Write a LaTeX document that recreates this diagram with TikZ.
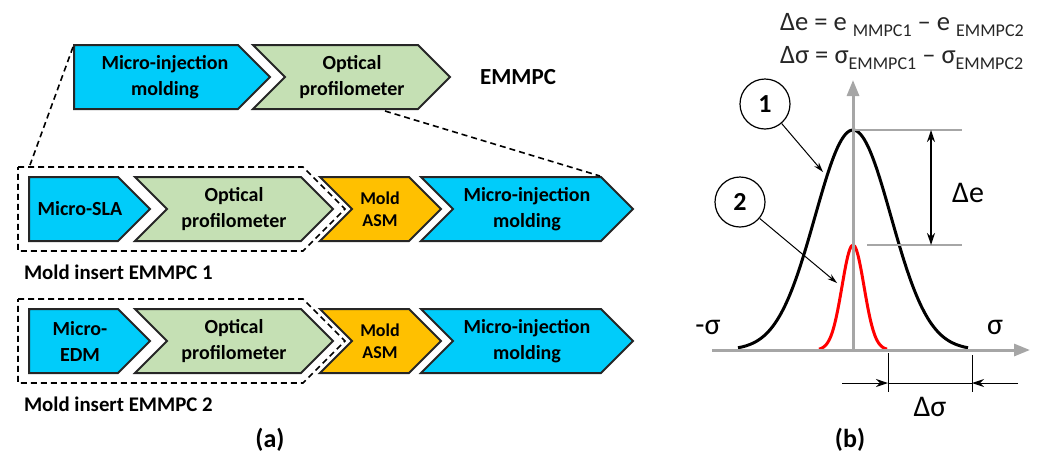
\documentclass[tikz,border=0pt]{standalone}
\usepackage{fontspec}
\setmainfont{Carlito}
\usetikzlibrary{arrows.meta}

\definecolor{chevblue}{RGB}{0,204,250}
\definecolor{chevgreen}{RGB}{197,224,180}
\definecolor{chevgold}{RGB}{255,192,0}
\definecolor{axisgray}{RGB}{166,166,166}
\newcommand{\lowsub}[1]{\raisebox{-0.45ex}{\fontsize{9}{9}\selectfont #1}}

\begin{document}
\begin{tikzpicture}[x=0.5pt,y=-0.5pt,
  chev/.style={draw=black!85,line width=1pt},
  chevtxt/.style={align=center,font=\fontsize{10}{13}\selectfont\bfseries},
  smalltxt/.style={align=center,font=\fontsize{9}{11}\selectfont\bfseries},
  dashbox/.style={draw,line width=0.8pt,dash pattern=on 3pt off 2pt},
  axis/.style={draw=axisgray,line width=1.5pt,-{Triangle[length=8pt,width=6pt]}},
  guide/.style={draw=axisgray,line width=0.6pt},
  ptr/.style={draw,line width=0.5pt,-{Stealth[length=5pt,width=3pt]}},
  bigtxt/.style={font=\fontsize{15}{17}\selectfont}]
\useasboundingbox (0,0) rectangle (1042,457);

% (a) top row
\draw[chev,fill=chevblue] (74,45) -- (238,45) -- (270,77) -- (238,109) -- (74,109) -- cycle;
\draw[chev,fill=chevgreen] (253,45) -- (418,45) -- (450,77) -- (418,109) -- (253,109) -- (285,77) -- cycle;
\node[chevtxt] (mim) at (165,77) {Micro-injection\\molding};
\node[chevtxt] (opt) at (352,77) {Optical\\profilometer};
\node[font=\fontsize{11.5}{13}\selectfont\bfseries] (emmpc) at (518,77) {EMMPC};

% (a) the two mold insert rows
\foreach \m/\nm/\lab/\k in {209/sla/Micro-SLA/1,341/edm/{Micro-\\EDM}/2}{
  \draw[dashbox] (18,\m-42) -- (303,\m-42) -- (345,\m) -- (303,\m+42) -- (18,\m+42) -- cycle;
  \draw[chev,fill=chevblue] (29,\m-32) -- (118,\m-32) -- (150,\m) -- (118,\m+32) -- (29,\m+32) -- cycle;
  \draw[chev,fill=chevgreen] (135,\m-32) -- (301,\m-32) -- (333,\m) -- (301,\m+32) -- (135,\m+32) -- (167,\m) -- cycle;
  \draw[chev,fill=chevgold] (320,\m-32) -- (409,\m-32) -- (441,\m) -- (409,\m+32) -- (320,\m+32) -- (352,\m) -- cycle;
  \draw[chev,fill=chevblue] (421,\m-32) -- (601,\m-32) -- (633,\m) -- (601,\m+32) -- (421,\m+32) -- (453,\m) -- cycle;
  \node[chevtxt] (\nm) at (80,\m) {\lab};
  \node[chevtxt] (opt\k) at (234,\m) {Optical\\profilometer};
  \node[smalltxt] (asm\k) at (380,\m) {Mold\\ASM};
  \node[chevtxt] (mim\k) at (527,\m) {Micro-injection\\molding};
  \node[anchor=west,font=\fontsize{10.4}{12}\selectfont\bfseries] (ins\k) at (17,\m+63) {Mold insert EMMPC \k};
}

% zoom lines
\coordinate (zl1) at (73,47);
\coordinate (zl2) at (30,165);
\coordinate (zr1) at (385,111);
\coordinate (zr2) at (600,176);
\draw[dashbox] (zl1) -- (zl2);
\draw[dashbox] (zr1) -- (zr2);

\node[font=\fontsize{13}{15}\selectfont\bfseries] (pa) at (270,440) {(a)};

% (b) distributions
\draw[black,line width=1.5pt] plot[smooth,domain=-115:115,samples=61] ({853+\x},{350-220*exp(-(\x)*(\x)/2888)});
\draw[red,line width=1.5pt] plot[smooth,domain=-34:34,samples=41] ({853+\x},{350-105*exp(-(\x)*(\x)/242)});

\coordinate (o) at (853,350);
\coordinate (xl) at (712,350);
\coordinate (xr) at (1030,350);
\coordinate (yt) at (853,80);
\draw[axis] (xl) -- (xr);
\draw[axis] (o) -- (yt);

% delta e
\draw[guide] (853,130) -- (962,130);
\draw[guide] (867,245) -- (962,245);
\draw[line width=0.8pt,{Stealth[length=6pt,width=4pt]}-{Stealth[length=6pt,width=4pt]}] (931,130) -- (931,245);
\node[bigtxt] (de) at (968,193) {Δe};

% delta sigma
\draw[line width=0.5pt] (888,353) -- (888,392);
\draw[line width=0.5pt] (972,355) -- (972,392);
\draw[line width=0.5pt] (888,383) -- (972,383);
\draw[line width=0.5pt,-{Stealth[length=6pt,width=4pt]}] (842,383) -- (888,383);
\draw[line width=0.5pt,-{Stealth[length=6pt,width=4pt]}] (1018,383) -- (972,383);
\node[bigtxt] (ds) at (930,407) {Δσ};

\node[bigtxt] (ms) at (708,327) {-σ};
\node[bigtxt] (ps) at (995,327) {σ};

% curve labels
\node[draw,circle,minimum size=25pt,inner sep=0pt,line width=0.6pt,font=\fontsize{13}{15}\selectfont\bfseries] (c1) at (765,104) {1};
\node[draw,circle,minimum size=25pt,inner sep=0pt,line width=0.6pt,font=\fontsize{13}{15}\selectfont\bfseries] (c2) at (740,202) {2};
\coordinate (t1) at (823,172);
\coordinate (t2) at (837,283);
\draw[ptr] (c1) -- (t1);
\draw[ptr] (c2) -- (t2);

\node[anchor=west,font=\fontsize{13.3}{15}\selectfont,text=black!85] (f1) at (773,25) {Δe = e \lowsub{MMPC1} -- e \lowsub{EMMPC2}};
\node[anchor=west,font=\fontsize{13.3}{15}\selectfont,text=black!85] (f2) at (773,58) {Δσ = σ\lowsub{EMMPC1} -- σ\lowsub{EMMPC2}};

\node[font=\fontsize{13}{15}\selectfont\bfseries] (pb) at (850,440) {(b)};
\end{tikzpicture}
\end{document}
